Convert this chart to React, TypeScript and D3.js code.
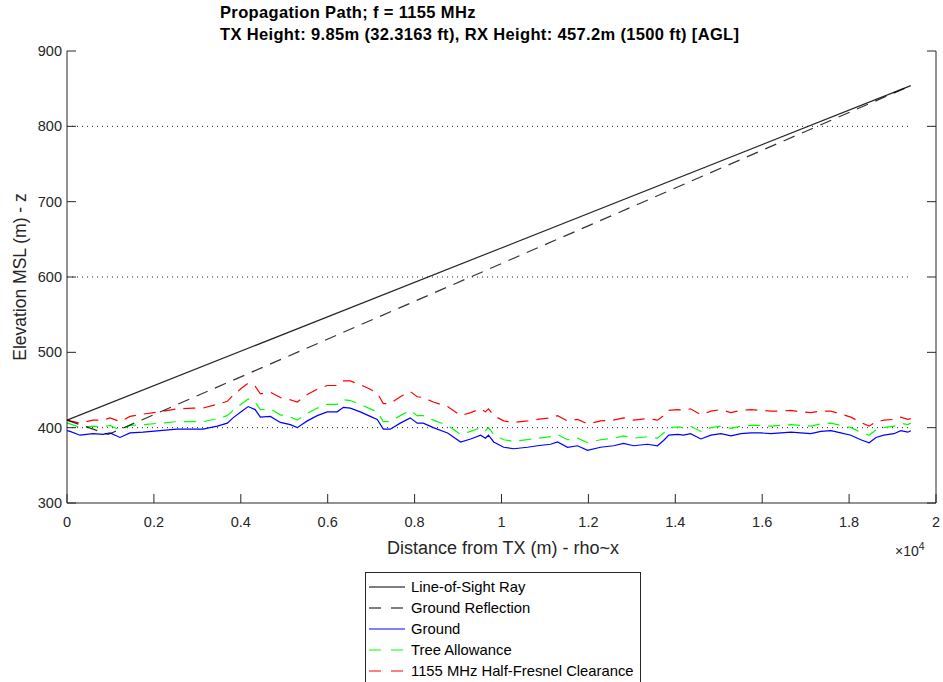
import React from "react";
import * as d3 from "d3";

const W = 943;
const H = 682;

const titleLines = [
  "Propagation Path; f = 1155 MHz",
  "TX Height: 9.85m (32.3163 ft), RX Height: 457.2m (1500 ft) [AGL]",
];
const yLabel = "Elevation MSL (m) - z";
const xLabel = "Distance from TX (m) - rho~x";

const xTicks = [0, 2000, 4000, 6000, 8000, 10000, 12000, 14000, 16000, 18000, 20000];
const xTickLabels = ["0", "0.2", "0.4", "0.6", "0.8", "1", "1.2", "1.4", "1.6", "1.8", "2"];
const yTicks = [300, 400, 500, 600, 700, 800, 900];
const dottedLevels = [400, 600, 800];
const pathLength = 19420;

// Line-of-sight ray and ground reflection
const losDist = [0, 19420];
const losElev = [410, 854];
const reflDist = [0, 950, 19420];
const reflElev = [410, 391, 854];

// Terrain profile (distance in m)
const dist = [
  0, 70, 300, 600, 830, 990, 1220, 1450, 1750, 2140, 2530, 2900, 3130, 3460, 3690, 3820,
  4030, 4170, 4330, 4450, 4680, 4910, 5140, 5300, 5530, 5760, 5990, 6220, 6360, 6520,
  6750, 6980, 7140, 7280, 7440, 7670, 7900, 8060, 8200, 8430, 8760, 9060, 9290, 9520,
  9630, 9700, 9820, 10050, 10280, 10600, 10830, 11130, 11290, 11520, 11750, 11980,
  12280, 12580, 12810, 13040, 13360, 13590, 13730, 13850, 14060, 14190, 14350, 14590,
  14820, 15050, 15280, 15510, 15740, 15970, 16200, 16430, 16660, 16890, 17120, 17350,
  17580, 17810, 18040, 18270, 18460, 18620, 18800, 19030, 19190, 19350, 19420,
];
const groundElev = [
  396, 395, 390, 392, 391, 393, 387, 393, 394, 396, 398, 398, 398, 402, 406, 413,
  422, 428, 424, 414, 415, 407, 404, 400, 409, 416, 421, 421, 427, 426,
  421, 415, 411, 398, 398, 406, 413, 406, 406, 400, 393, 381, 385, 390,
  386, 390, 381, 374, 372, 374, 376, 378, 381, 374, 376, 370,
  374, 376, 379, 376, 378, 376, 383, 390, 391, 390, 392, 385,
  390, 392, 389, 392, 393, 393, 392, 393, 394, 393, 392, 395,
  396, 393, 390, 384, 380, 387, 390, 392, 396, 394, 396,
];
const treeElev = [
  406, 405, 400, 402, 401, 403, 397, 403, 404, 406, 408, 408, 408, 412, 416, 423,
  432, 438, 434, 424, 425, 417, 414, 410, 419, 426, 431, 431, 437, 436,
  431, 425, 421, 408, 408, 416, 423, 416, 416, 410, 403, 391, 395, 400,
  396, 400, 391, 384, 382, 384, 386, 388, 391, 384, 386, 380,
  384, 386, 389, 386, 388, 386, 393, 400, 401, 400, 402, 395,
  400, 402, 399, 402, 403, 403, 402, 403, 404, 403, 402, 405,
  406, 403, 400, 394, 390, 397, 400, 402, 406, 404, 406,
];
const fresnelElev = [
  410, 409, 406, 410, 410, 413, 408, 415, 418, 421, 425, 426, 426, 431, 435, 443,
  453, 459, 455, 445, 447, 440, 437, 434, 444, 451, 456, 456, 462, 462,
  457, 451, 446, 432, 432, 441, 448, 441, 440, 434, 428, 416, 420, 425,
  421, 425, 416, 409, 407, 409, 411, 413, 416, 409, 411, 405,
  409, 410, 413, 410, 412, 410, 416, 423, 424, 423, 425, 417,
  422, 424, 420, 423, 424, 423, 422, 422, 423, 421, 420, 422,
  422, 418, 414, 407, 402, 408, 410, 411, 414, 411, 412,
];

const legendItems = [
  { label: "Line-of-Sight Ray", color: "#000000", dash: "" },
  { label: "Ground Reflection", color: "#000000", dash: "12 8" },
  { label: "Ground", color: "#0000ff", dash: "" },
  { label: "Tree Allowance", color: "#00ff00", dash: "12 8" },
  { label: "1155 MHz Half-Fresnel Clearance", color: "#ff0000", dash: "12 8" },
];

const FONT = "'Liberation Sans', Arial, Helvetica, sans-serif";
const AX = "#262626";

export default function App() {
  const x = d3.scaleLinear().domain([0, 20000]).range([67, 936]);
  const y = d3.scaleLinear().domain([300, 900]).range([503, 51]);
  const line = d3
    .line<[number, number]>()
    .x((d) => x(d[0]))
    .y((d) => y(d[1]));
  const zip = (a: number[], b: number[]) => a.map((v, i) => [v, b[i]] as [number, number]);

  const top = y(900);
  const bottom = y(300);
  const left = x(0);
  const right = x(20000);

  return (
    <svg
      width={W}
      height={H}
      style={{ position: "absolute", left: 0, top: 0, background: "#fff", display: "block" }}
      fontFamily={FONT}
    >
      <rect x={0} y={0} width={W} height={H} fill="#fff" />
      {/* titles */}
      {titleLines.map((t, i) => (
        <text
          key={i}
          x={220}
          y={18 + i * 22}
          fontSize={16.5}
          letterSpacing={0.35}
          fontWeight="bold"
          fill="#000"
        >
          {t}
        </text>
      ))}

      {/* dotted reference levels */}
      {dottedLevels.map((lv) => (
        <line
          key={lv}
          x1={x(0)}
          x2={x(pathLength)}
          y1={y(lv)}
          y2={y(lv)}
          stroke="#222"
          strokeWidth={1}
          strokeDasharray="1 4"
        />
      ))}

      {/* data lines */}
      <path d={line(zip(dist, groundElev)) || ""} fill="none" stroke="#0000ff" strokeWidth={1.2} />
      <path d={line(zip(dist, treeElev)) || ""} fill="none" stroke="#00ff00" strokeWidth={1.2} strokeDasharray="12 8" />
      <path d={line(zip(dist, fresnelElev)) || ""} fill="none" stroke="#ff0000" strokeWidth={1.2} strokeDasharray="12 8" />
      <path d={line(zip(reflDist, reflElev)) || ""} fill="none" stroke="#000" strokeOpacity={0.8} strokeWidth={1.2} strokeDasharray="12 8" />
      <path d={line(zip(losDist, losElev)) || ""} fill="none" stroke="#000" strokeOpacity={0.85} strokeWidth={1.2} />

      {/* axes */}
      <line x1={left} x2={left} y1={top} y2={bottom} stroke={AX} strokeWidth={1} />
      <line x1={right} x2={right} y1={top} y2={bottom} stroke={AX} strokeWidth={1} />
      <line x1={left} x2={right} y1={bottom} y2={bottom} stroke={AX} strokeWidth={1} />
      {xTicks.map((t, i) => (
        <g key={t}>
          <line x1={x(t)} x2={x(t)} y1={bottom} y2={bottom - 9} stroke={AX} strokeWidth={1} />
          <text x={x(t)} y={527} fontSize={14.5} textAnchor="middle" fill={AX}>
            {xTickLabels[i]}
          </text>
        </g>
      ))}
      {yTicks.map((t) => (
        <g key={t}>
          <line x1={left} x2={left + 9} y1={y(t)} y2={y(t)} stroke={AX} strokeWidth={1} />
          <line x1={right} x2={right - 9} y1={y(t)} y2={y(t)} stroke={AX} strokeWidth={1} />
          <text x={62} y={y(t) + 5} fontSize={14.5} textAnchor="end" fill={AX}>
            {t}
          </text>
        </g>
      ))}
      <text x={895} y={556} fontSize={14} fill={AX}>
        ×10
        <tspan dy={-6} fontSize={10.5}>
          4
        </tspan>
      </text>

      {/* axis labels */}
      <text x={503} y={554} fontSize={18} textAnchor="middle" fill={AX}>
        {xLabel}
      </text>
      <text
        transform={`translate(26, ${(top + bottom) / 2}) rotate(-90)`}
        fontSize={17.5}
        textAnchor="middle"
        fill={AX}
      >
        {yLabel}
      </text>

      {/* legend */}
      <rect x={365.5} y={572.5} width={275} height={130} fill="#fff" stroke={AX} strokeWidth={1} />
      {legendItems.map((it, i) => {
        const ly = 587 + i * 21;
        return (
          <g key={it.label}>
            <line
              x1={369}
              x2={405}
              y1={ly}
              y2={ly}
              stroke={it.color}
              strokeWidth={1.2}
              strokeDasharray={it.dash ? "12 10" : undefined}
            />
            <text x={411} y={ly + 5} fontSize={14.8} fill="#000">
              {it.label}
            </text>
          </g>
        );
      })}
    </svg>
  );
}
